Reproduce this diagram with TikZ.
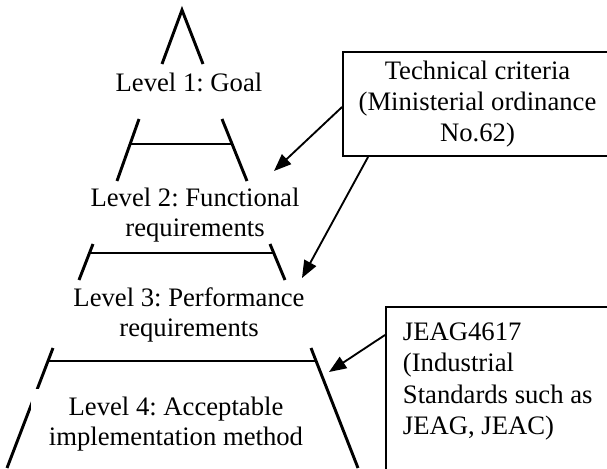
\documentclass[tikz,border=0pt]{standalone}
\usepackage{fontspec}
\setmainfont{Liberation Serif}
\usetikzlibrary{arrows.meta,calc}
\frenchspacing

\begin{document}
\begin{tikzpicture}[x=0.75pt, y=-0.75pt,
	levelline/.style={line width=2.2pt},
	stepline/.style={line width=1.5pt},
	leveltext/.style={inner sep=0pt, align=center, font=\fontsize{20}{22.5}\selectfont},
	infobox/.style={draw, line width=1.4pt, font=\fontsize{20}{23.5}\selectfont},
	refarrow/.style={line width=1.4pt, -{Triangle[length=13pt,width=10pt]}}]
			%%%%% START %%%%%
			
			\useasboundingbox (0, 0) rectangle (607, 468);
			\clip (0, 0) rectangle (607, 468);
			
			% level 1
			\draw[levelline] (162, 64) -- (182, 10) -- (203, 64);
			\node[leveltext] (goal) at (189, 82) {Level 1: Goal};
			
			% level 2
			\draw[levelline] (139, 119) -- (117, 181);
			\draw[levelline] (222, 119) -- (247, 181);
			\draw[stepline] (131, 144) -- (232, 144);
			\node[leveltext] (functional) at (195, 215) {Level 2: Functional\\requirements};
			
			% level 3
			\draw[levelline] (93, 244) -- (79, 280);
			\draw[levelline] (270, 244) -- (285, 280);
			\draw[stepline] (90, 253) -- (274, 253);
			\node[leveltext] (performance) at (189, 315) {Level 3: Performance\\requirements};
			
			% level 4
			\draw[levelline] (53, 348) -- (7, 468);
			\draw[levelline] (311, 348) -- (358, 468);
			\draw[stepline] (48, 361) -- (316, 361);
			\node[leveltext, fill=white, inner xsep=13.5pt, inner ysep=6pt] (acceptable) at (176, 424) {Level 4: Acceptable\\implementation method};
			
			% sources
			\node[infobox, align=center, minimum width=201.75pt, minimum height=78pt] (criteria) at (477.5, 104) {Technical criteria\\(Ministerial ordinance\\No.62)};
			\node[infobox, align=flush left, anchor=north west, text width=170pt, inner xsep=12.75pt, inner ysep=12pt] (jeag) at (385, 306) {JEAG4617\\(Industrial\\Standards such as\\JEAG, JEAC)\rule[-35pt]{0pt}{35pt}};
			
			\coordinate (tip2) at (274, 171);
			\coordinate (tip3) at (302, 278);
			\coordinate (tip4) at (329, 372);
			
			\draw[refarrow] (criteria.west |- 0, 107) -- (tip2);
			\draw[refarrow] ([xshift=19.5pt]criteria.south west) -- (tip3);
			\draw[refarrow] ([yshift=-21.75pt]jeag.north west) -- (tip4);
			
			%%%%% END %%%%%
		\end{tikzpicture}
\end{document}
